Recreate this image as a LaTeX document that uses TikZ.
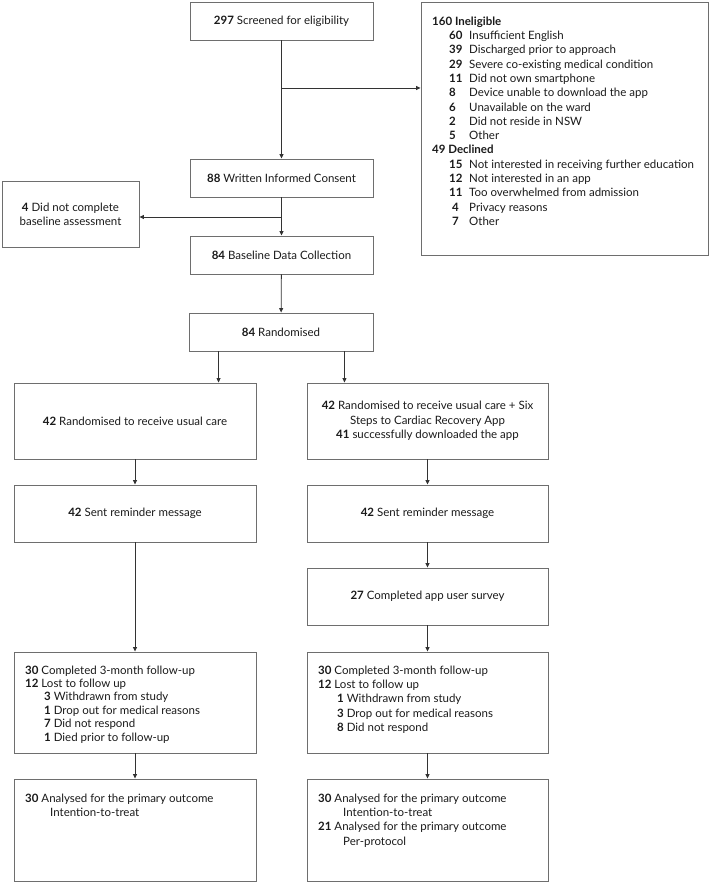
\documentclass[tikz,border=0pt]{standalone}
\usepackage{fontspec}
\setmainfont{Lato}
\usetikzlibrary{arrows.meta,calc}
\definecolor{boxgray}{HTML}{6E6E6E}
\definecolor{linegray}{HTML}{333333}
\definecolor{txtcol}{HTML}{1A1A1A}
\begin{document}
\begin{tikzpicture}[x=1pt,y=-1pt,
  every node/.style={font=\fontsize{11.5}{14.3}\selectfont, text=txtcol},
  box/.style={draw=boxgray, line width=0.9pt, inner sep=0pt, align=center},
  txt/.style={inner sep=0pt, align=left, anchor=north west},
  arr/.style={draw=linegray, line width=0.8pt, -{Triangle[length=4.5pt,width=4pt]}}]
\useasboundingbox (0,0) rectangle (711,882);
% top column
\node[box, minimum width=183pt, minimum height=38pt] (scr) at (281.5,21) {\textbf{297} Screened for eligibility};
\node[box, minimum width=183pt, minimum height=38pt] (con) at (281.5,178) {\textbf{88} Written Informed Consent};
\node[box, minimum width=183pt, minimum height=38pt] (bas) at (281.5,255) {\textbf{84} Baseline Data Collection};
\node[box, minimum width=184pt, minimum height=38pt] (ran) at (281,332) {\textbf{84} Randomised};
\node[box, minimum width=137pt, minimum height=66pt] (dnc) at (70.5,214) {\textbf{4} Did not complete\\baseline assessment};
% ineligible box
\node[box, minimum width=287pt, minimum height=253pt] (inel) at (564.5,128.5) {};
\node[txt] (ineltxt) at (432,16.5) {%
\textbf{160 Ineligible}\\
\hspace{17pt}\makebox[20pt][l]{\textbf{60}}Insufficient English\\
\hspace{17pt}\makebox[20pt][l]{\textbf{39}}Discharged prior to approach\\
\hspace{17pt}\makebox[20pt][l]{\textbf{29}}Severe co-existing medical condition\\
\hspace{17pt}\makebox[20pt][l]{\textbf{11}}Did not own smartphone\\
\hspace{17pt}\makebox[20pt][l]{\textbf{8}}Device unable to download the app\\
\hspace{17pt}\makebox[20pt][l]{\textbf{6}}Unavailable on the ward\\
\hspace{17pt}\makebox[20pt][l]{\textbf{2}}Did not reside in NSW\\
\hspace{17pt}\makebox[20pt][l]{\textbf{5}}Other\\
\textbf{49 Declined}\\
\hspace{17pt}\makebox[20pt][l]{\textbf{15}}Not interested in receiving further education\\
\hspace{17pt}\makebox[20pt][l]{\textbf{12}}Not interested in an app\\
\hspace{17pt}\makebox[20pt][l]{\textbf{11}}Too overwhelmed from admission\\
\hspace{17pt}\makebox[20pt][l]{\hspace{3pt}\textbf{4}}Privacy reasons\\
\hspace{17pt}\makebox[20pt][l]{\hspace{3pt}\textbf{7}}Other};
% left arm
\node[box, minimum width=242pt, minimum height=76pt] (l1) at (135,421) {\textbf{42} Randomised to receive usual care};
\node[box, minimum width=242pt, minimum height=57pt] (l2) at (135,513.5) {\textbf{42} Sent reminder message};
\node[box, minimum width=242pt, minimum height=101pt] (l3) at (135,702.5) {};
\node[box, minimum width=242pt, minimum height=102pt] (l4) at (135,830) {};
\node[txt, font=\fontsize{11.5}{13.4}\selectfont] (l3t) at (25,665.5) {%
\textbf{30} Completed 3-month follow-up\\
\textbf{12} Lost to follow up\\
\hspace{19pt}\textbf{3} Withdrawn from study\\
\hspace{19pt}\textbf{1} Drop out for medical reasons\\
\hspace{19pt}\textbf{7} Did not respond\\
\hspace{19pt}\textbf{1} Died prior to follow-up};
\node[txt] (l4t) at (25,793.5) {%
\textbf{30} Analysed for the primary outcome\\
\hspace{25pt}Intention-to-treat};
% right arm
\node[box, minimum width=241pt, minimum height=76pt] (r1) at (427.5,421) {\textbf{42} Randomised to receive usual care + Six\\Steps to Cardiac Recovery App\\\textbf{41} successfully downloaded the app};
\node[box, minimum width=241pt, minimum height=57pt] (r2) at (427.5,513.5) {\textbf{42} Sent reminder message};
\node[box, minimum width=241pt, minimum height=57pt] (r3) at (427.5,596.5) {\textbf{27} Completed app user survey};
\node[box, minimum width=241pt, minimum height=101pt] (r4) at (427.5,702.5) {};
\node[box, minimum width=241pt, minimum height=102pt] (r5) at (427.5,830) {};
\node[txt] (r4t) at (318,665.5) {%
\textbf{30} Completed 3-month follow-up\\
\textbf{12} Lost to follow up\\
\hspace{19pt}\textbf{1} Withdrawn from study\\
\hspace{19pt}\textbf{3} Drop out for medical reasons\\
\hspace{19pt}\textbf{8} Did not respond};
\node[txt] (r5t) at (318,793.5) {%
\textbf{30} Analysed for the primary outcome\\
\hspace{25pt}Intention-to-treat\\
\textbf{21} Analysed for the primary outcome\\
\hspace{25pt}Per-protocol};
% connectors
\coordinate (b1) at (281.5,88);
\coordinate (b2) at (281.5,217);
\draw[arr] (scr) -- (con);
\draw[arr] (b1) -- (b1 -| inel.west);
\draw[arr] (con) -- (bas);
\draw[arr] (b2) -- (b2 -| dnc.east);
\draw[arr] (bas) -- (ran);
\draw[arr] ([xshift=30pt]ran.south west) -- ([xshift=30pt]ran.south west |- l1.north);
\draw[arr] ([xshift=-29pt]ran.south east) -- ([xshift=-29pt]ran.south east |- r1.north);
\draw[arr] (l1) -- (l2);
\draw[arr] (l2) -- (l3);
\draw[arr] (l3) -- (l4);
\draw[arr] (r1) -- (r2);
\draw[arr] (r2) -- (r3);
\draw[arr] (r3) -- (r4);
\draw[arr] (r4) -- (r5);
\end{tikzpicture}
\end{document}
